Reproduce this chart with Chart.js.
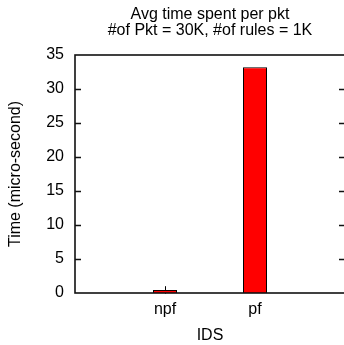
<!DOCTYPE html>
<html>
<head>
<meta charset="utf-8">
<script src="https://cdn.jsdelivr.net/npm/chart.js@4/dist/chart.umd.min.js"></script>
<style>
html,body{margin:0;padding:0;background:#fff;overflow:hidden;}
canvas{display:block;}
</style>
</head>
<body>
<canvas id="c" width="346" height="345"></canvas>
<script>
// ---- data ----
const categories = ['npf', 'pf'];
const avgTime = [0.45, 33.2];
const errTime = [0.55, 0];
const titleLines = ['Avg time spent per pkt', '#of Pkt = 30K, #of rules = 1K'];
const yTitle = 'Time (micro-second)';
const xTitle = 'IDS';
const yMin = 0, yMax = 35, yStep = 5;

const FONT = '"Liberation Sans", Arial, Helvetica, sans-serif';
const labels = ['', ...categories, ''];
const values = [null, ...avgTime, null];
const errors = [null, ...errTime, null];

const framePlugin = {
  id: 'frame',
  beforeDatasetsDraw(chart) {
    const ctx = chart.ctx, xs = chart.scales.x, ys = chart.scales.y;
    ctx.save();
    ctx.strokeStyle = '#000';
    ctx.lineWidth = 1;
    values.forEach((v, i) => {
      if (v === null || !errors[i]) return;
      const x = xs.getPixelForValue(i);
      ctx.beginPath();
      ctx.moveTo(Math.round(x) + 0.5, ys.getPixelForValue(v - errors[i]));
      ctx.lineTo(Math.round(x) + 0.5, ys.getPixelForValue(v + errors[i]));
      ctx.stroke();
    });
    ctx.restore();
  },
  afterDatasetsDraw(chart) {
    const ctx = chart.ctx, a = chart.chartArea, ys = chart.scales.y;
    ctx.save();
    ctx.strokeStyle = '#111';
    ctx.lineWidth = 1.6;
    ctx.strokeRect(a.left, a.top, a.right - a.left, a.bottom - a.top);
    ctx.lineWidth = 1.4;
    ys.ticks.forEach(t => {
      if (t.value <= yMin || t.value >= yMax) return;
      const y = Math.round(ys.getPixelForValue(t.value)) + 0.5;
      ctx.beginPath();
      ctx.moveTo(a.left, y); ctx.lineTo(a.left + 6, y);
      ctx.moveTo(a.right, y); ctx.lineTo(a.right - 6, y);
      ctx.stroke();
    });
    // title
    ctx.fillStyle = '#000';
    ctx.font = '16px ' + FONT;
    ctx.textAlign = 'center';
    ctx.textBaseline = 'alphabetic';
    const cx = (a.left + a.right) / 2;
    ctx.fillText(titleLines[0], cx, 19);
    ctx.fillText(titleLines[1], cx, 35);
    ctx.restore();
  }
};

new Chart(document.getElementById('c'), {
  type: 'bar',
  data: {
    labels: labels,
    datasets: [{
      data: values,
      backgroundColor: '#ff0000',
      borderColor: '#000',
      borderWidth: 1,
      barPercentage: 0.267,
      categoryPercentage: 1
    }]
  },
  options: {
    responsive: false,
    animation: false,
    events: [],
    layout: { autoPadding: false, padding: { top: 55, left: 0, right: 1, bottom: 0 } },
    plugins: { legend: { display: false }, title: { display: false }, tooltip: { enabled: false } },
    scales: {
      x: {
        type: 'category',
        offset: false,
        grid: { display: false, drawTicks: false },
        border: { display: false },
        ticks: { color: '#000', font: { family: FONT, size: 16 }, padding: 7, maxRotation: 0, autoSkip: false },
        title: { display: true, text: xTitle, color: '#000', font: { family: FONT, size: 16 }, padding: { top: 0, bottom: 0 } },
        afterFit(s) { s.height = 52; s.paddingLeft = 0; s.paddingRight = 0; }
      },
      y: {
        min: yMin, max: yMax,
        grid: { display: false, drawTicks: false },
        border: { display: false },
        ticks: { stepSize: yStep, color: '#000', font: { family: FONT, size: 16 }, padding: 11 },
        title: { display: true, text: yTitle, color: '#000', font: { family: FONT, size: 16 }, padding: { top: 6, bottom: 0 } },
        afterFit(s) { s.width = 75; s.paddingTop = 0; s.paddingBottom = 0; }
      }
    }
  },
  plugins: [framePlugin]
});
</script>
</body>
</html>
